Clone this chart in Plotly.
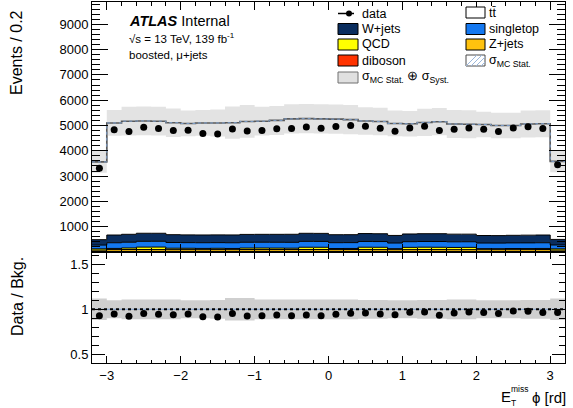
import numpy as np
import plotly.graph_objects as go

# Binning: 32 bins of 0.2 rad in E_T^miss phi
bin_edges = [round(-3.2 + 0.2 * i, 1) for i in range(33)]
bin_centers = [round(-3.1 + 0.2 * i, 1) for i in range(32)]

# Observed data (events per bin)
data = [3307, 4835, 4767, 4931, 4880, 4803, 4816, 4682, 4667, 4865, 4778, 4803,
        4872, 4881, 4938, 4887, 4956, 4995, 4968, 4892, 4775, 4898, 4966, 4805,
        4853, 4899, 4854, 4760, 4905, 4949, 4883, 3448]

# Background predictions (events per bin)
ttbar = [3072, 4429, 4471, 4439, 4430, 4425, 4404, 4427, 4424, 4436, 4465, 4472,
         4502, 4560, 4531, 4524, 4566, 4545, 4451, 4437, 4426, 4358, 4396, 4426,
         4355, 4345, 4388, 4352, 4341, 4395, 4399, 3083]
wjets = [215, 305, 312, 318, 316, 310, 305, 306, 306, 308, 311, 312, 314, 318, 318, 317,
         316, 315, 312, 310, 300, 305, 308, 310, 302, 300, 298, 296, 300, 305, 306, 220]
singletop = [150, 225, 228, 230, 229, 226, 224, 225, 224, 226, 228, 229, 230, 232, 233, 232,
             231, 230, 228, 227, 222, 224, 226, 227, 223, 222, 221, 220, 222, 224, 225, 155]
qcd = [50, 45, 60, 95, 98, 55, 52, 48, 50, 45, 58, 60, 55, 50, 90, 88,
       40, 42, 92, 90, 38, 88, 92, 90, 86, 88, 40, 38, 42, 40, 42, 48]
zjets = [55, 72, 74, 73, 72, 70, 71, 70, 72, 71, 73, 72, 74, 75, 73, 74,
         72, 73, 72, 71, 70, 71, 73, 72, 70, 71, 69, 70, 71, 72, 73, 56]
diboson = [18, 24, 25, 25, 25, 24, 24, 24, 24, 24, 25, 25, 25, 25, 25, 25,
           25, 25, 25, 25, 24, 24, 25, 25, 24, 24, 24, 24, 24, 24, 25, 18]

# Relative total uncertainty (MC stat. (+) syst.) per bin
unc_rel = [0.12, 0.10, 0.11, 0.11, 0.11, 0.11, 0.10, 0.10, 0.105, 0.125, 0.125, 0.11,
           0.11, 0.11, 0.11, 0.11, 0.11, 0.11, 0.105, 0.105, 0.10, 0.10, 0.105, 0.105,
           0.11, 0.11, 0.10, 0.10, 0.10, 0.105, 0.105, 0.12]

# Stack order from bottom to top
stack = [
    ("diboson", diboson, "#ff3300"),
    ("Z+jets", zjets, "#ffc20e"),
    ("QCD", qcd, "#ffff00"),
    ("singletop", singletop, "#1478f0"),
    ("W+jets", wjets, "#0a2d5e"),
    ("tt", ttbar, "#ffffff"),
]

FONT = "Liberation Sans, Arial, sans-serif"
W, H = 573, 408
L, R, T, B = 92, 8, 2, 45
PW, PH = W - L - R, H - T - B
RATIO_FRAC = 111 / PH


def xp(px):
    return (px - L) / PW


def yp(py):
    return (H - B - py) / PH


def step(vals):
    return list(vals) + [vals[-1]]


fig = go.Figure()

# Stacked backgrounds as filled step histograms
cum = np.zeros(len(bin_centers))
for i, (name, vals, color) in enumerate(stack):
    cum = cum + np.array(vals, dtype=float)
    last = i == len(stack) - 1
    fig.add_trace(go.Scatter(
        x=bin_edges, y=step(cum), mode="lines", line_shape="hv",
        line=dict(color="#505050" if last else "black", width=1),
        fill="tozeroy" if i == 0 else "tonexty", fillcolor=color,
        showlegend=False, hoverinfo="skip", xaxis="x", yaxis="y"))

total = cum
lo = total * (1 - np.array(unc_rel))
hi = total * (1 + np.array(unc_rel))

# Uncertainty band on the total prediction
fig.add_trace(go.Scatter(x=bin_edges, y=step(lo), mode="lines", line_shape="hv",
                         line=dict(width=0, color="rgba(0,0,0,0)"),
                         showlegend=False, hoverinfo="skip"))
fig.add_trace(go.Scatter(x=bin_edges, y=step(hi), mode="lines", line_shape="hv",
                         line=dict(width=0, color="rgba(0,0,0,0)"),
                         fill="tonexty", fillcolor="#e3e3e3",
                         showlegend=False, hoverinfo="skip"))

# Total prediction outline with MC-stat hatch
fig.add_trace(go.Scatter(x=bin_edges, y=step(total), mode="lines", line_shape="hv",
                         line=dict(color="#5a5a5a", width=1.6),
                         showlegend=False, hoverinfo="skip"))
fig.add_trace(go.Scatter(x=bin_edges, y=step(total), mode="lines", line_shape="hv",
                         line=dict(color="#7d9fcc", width=1, dash="dot"),
                         showlegend=False, hoverinfo="skip"))

# Data points
fig.add_trace(go.Scatter(x=bin_centers, y=data, mode="markers",
                         marker=dict(color="black", size=7),
                         showlegend=False, hoverinfo="skip"))

# Ratio panel
ratio = np.array(data) / total
r_lo = 1 - np.array(unc_rel)
r_hi = 1 + np.array(unc_rel)
fig.add_trace(go.Scatter(x=bin_edges, y=step(r_lo), mode="lines", line_shape="hv",
                         line=dict(width=0, color="rgba(0,0,0,0)"),
                         showlegend=False, hoverinfo="skip", xaxis="x2", yaxis="y2"))
fig.add_trace(go.Scatter(x=bin_edges, y=step(r_hi), mode="lines", line_shape="hv",
                         line=dict(width=0, color="rgba(0,0,0,0)"),
                         fill="tonexty", fillcolor="#cfcfcf",
                         showlegend=False, hoverinfo="skip", xaxis="x2", yaxis="y2"))
fig.add_trace(go.Scatter(x=[bin_edges[0], bin_edges[-1]], y=[1, 1], mode="lines",
                         line=dict(color="#7d9fcc", width=1),
                         showlegend=False, hoverinfo="skip", xaxis="x2", yaxis="y2"))
fig.add_trace(go.Scatter(x=[bin_edges[0], bin_edges[-1]], y=[1, 1], mode="lines",
                         line=dict(color="black", width=2, dash="dot"),
                         showlegend=False, hoverinfo="skip", xaxis="x2", yaxis="y2"))
fig.add_trace(go.Scatter(x=bin_centers, y=ratio, mode="markers",
                         marker=dict(color="black", size=7),
                         showlegend=False, hoverinfo="skip", xaxis="x2", yaxis="y2"))

tickfont = dict(family=FONT, size=13, color="black")
common_x = dict(range=[-3.2, 3.2], showline=True, linecolor="black", linewidth=1,
                mirror="allticks", ticks="inside", tickcolor="black", dtick=1, tick0=0,
                showgrid=False, zeroline=False, tickfont=tickfont)

fig.update_layout(
    width=W, height=H, margin=dict(l=L, r=R, t=T, b=B),
    paper_bgcolor="white", plot_bgcolor="white", showlegend=False,
    xaxis=dict(common_x, anchor="y", showticklabels=False, ticklen=8,
               minor=dict(dtick=0.2, ticklen=4, ticks="inside", tickcolor="black")),
    yaxis=dict(domain=[RATIO_FRAC, 1], range=[0, 9880], anchor="x",
               tickvals=[1000 * k for k in range(1, 10)],
               showline=True, linecolor="black", linewidth=1, mirror="allticks",
               ticks="inside", ticklen=16, tickcolor="black", showgrid=False,
               zeroline=False, tickfont=tickfont,
               minor=dict(dtick=200, tick0=0, ticklen=8, ticks="inside", tickcolor="black")),
    xaxis2=dict(common_x, anchor="y2", matches="x", ticklen=7,
                tickvals=[-3, -2, -1, 0, 1, 2, 3],
                ticktext=["\u22123", "\u22122", "\u22121", "0", "1", "2", "3"],
                ticklabelstandoff=0,
                minor=dict(dtick=0.2, ticklen=3.5, ticks="inside", tickcolor="black")),
    yaxis2=dict(domain=[0, RATIO_FRAC], range=[0.4, 1.64], anchor="x2",
                tickvals=[0.5, 1, 1.5], ticktext=["0.5", "1", "1.5"],
                showline=True, linecolor="black", linewidth=1, mirror="allticks",
                ticks="inside", ticklen=13, tickcolor="black", showgrid=False,
                zeroline=False, tickfont=tickfont,
                minor=dict(dtick=0.1, tick0=0, ticklen=6.5, ticks="inside", tickcolor="black")),
)

ann = []


def text(px, py, s, size, xanchor="left", angle=0):
    ann.append(dict(x=xp(px), y=yp(py), xref="paper", yref="paper", text=s,
                    showarrow=False, xanchor=xanchor, yanchor="middle",
                    textangle=angle, font=dict(family=FONT, size=size, color="black")))


# Axis titles
text(17, 53, "Events / 0.2", 16, xanchor="center", angle=-90)
text(17, 297, "Data / Bkg.", 16, xanchor="center", angle=-90)
text(499, 396, "E", 15)
text(509, 389, "miss", 8.5)
text(509, 403, "T", 8.5)
text(530, 397, "\u03d5 [rd]", 15)

# ATLAS label
text(127, 21, "<b><i>ATLAS</i></b> Internal", 14.5)
text(127, 38, "\u221as = 13 TeV, 139 fb<sup>-1</sup>", 11.5)
text(127, 55, "boosted, \u03bc+jets", 11.5)

# Legend
shapes = []


def box(x0, y0, x1, y1, fill, line="black"):
    shapes.append(dict(type="rect", xref="paper", yref="paper",
                       x0=xp(x0), x1=xp(x1), y0=yp(y1), y1=yp(y0),
                       fillcolor=fill, line=dict(color=line, width=1)))


LS = 12.5
# data entry
shapes.append(dict(type="line", xref="paper", yref="paper", x0=xp(338), x1=xp(354),
                   y0=yp(13.5), y1=yp(13.5), line=dict(color="black", width=1.5)))
shapes.append(dict(type="circle", xref="paper", yref="paper", x0=xp(346), x1=xp(352),
                   y0=yp(16.5), y1=yp(10.5), fillcolor="black", line=dict(color="black", width=0)))
text(360, 13.5, "data", LS)
rows = [29, 44.5, 60.5]
left_entries = [("W+jets", "#0a2d5e"), ("QCD", "#ffff00"), ("diboson", "#ff3300")]
for (name, col), yc in zip(left_entries, rows):
    box(338, yc - 5.5, 358, yc + 5.5, col)
    text(360, yc, name, LS)
box(338, 72, 358, 83, "#e0e0e0", line="#707070")
text(360, 77, "\u03c3<sub>MC Stat.</sub> \u2295 \u03c3<sub>Syst.</sub>", LS)

right_rows = [12.5, 29, 44.5]
right_entries = [("tt\u0304", "#ffffff"), ("singletop", "#1478f0"), ("Z+jets", "#ffc20e")]
for (name, col), yc in zip(right_entries, right_rows):
    box(466, yc - 5.5, 485, yc + 5.5, col)
    text(487, yc, name, LS)
box(466, 55, 485, 66, "white", line="#4a4a4a")
for k in range(4):
    xa = 466 + 5 * k
    shapes.append(dict(type="line", xref="paper", yref="paper",
                       x0=xp(xa), x1=xp(min(xa + 11, 485)),
                       y0=yp(66), y1=yp(66 - (min(xa + 11, 485) - xa)),
                       line=dict(color="#9bb7dc", width=1)))
text(487, 60.5, "\u03c3<sub>MC Stat.</sub>", LS)

fig.update_layout(annotations=ann, shapes=shapes)
fig.write_html("out.html")
